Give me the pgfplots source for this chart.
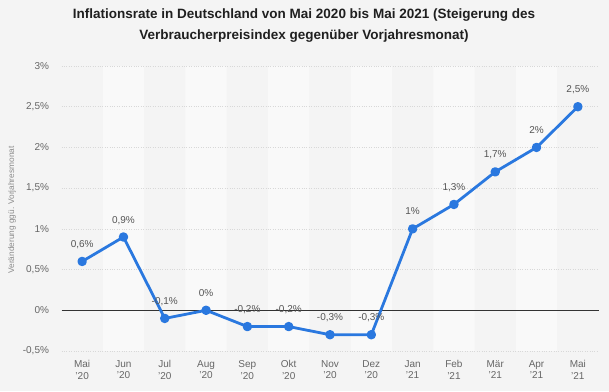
\documentclass[border=0pt]{standalone}
\usepackage{pgfplots}
\pgfplotsset{compat=1.18}
\usepackage{fontspec}
\setmainfont{Liberation Sans}
\definecolor{bg}{HTML}{F4F4F4}
\definecolor{stripe}{HTML}{F9F9F9}
\definecolor{lineblue}{HTML}{2A78DF}
\definecolor{ticktext}{HTML}{666666}
\definecolor{labeltext}{HTML}{555555}
\definecolor{gridc}{HTML}{D8D8D8}
\pgfplotstableread{
x y label
0 0.6 0,6\%
1 0.9 0,9\%
2 -0.1 -0,1\%
3 0 0\%
4 -0.2 -0,2\%
5 -0.2 -0,2\%
6 -0.3 -0,3\%
7 -0.3 -0,3\%
8 1 1\%
9 1.3 1,3\%
10 1.7 1,7\%
11 2 2\%
12 2.5 2,5\%
}\datatable
\pgfplotstableread{
x h
1 3.5
3 3.5
5 3.5
7 3.5
9 3.5
11 3.5
}\stripetable
\begin{document}
\begin{tikzpicture}
\fill[bg] (0,0) rectangle (609pt,391pt);
\node[font=\bfseries\fontsize{13.5}{16}\selectfont, text=black!88, anchor=base] at (304pt,372.5pt) {Inflationsrate in Deutschland von Mai 2020 bis Mai 2021 (Steigerung des};
\node[font=\bfseries\fontsize{13.5}{16}\selectfont, text=black!88, anchor=base] at (304pt,351pt) {Verbraucherpreisindex gegenüber Vorjahresmonat)};
\node[font=\fontsize{8.3}{9}\selectfont, text=black!45, rotate=90] at (12pt,181pt) {Veränderung ggü. Vorjahresmonat};
% background stripes
\begin{axis}[
  at={(61.5pt,40pt)}, anchor=south west,
  scale only axis, width=537pt, height=285pt,
  xmin=-0.5, xmax=12.5, ymin=0, ymax=3.5,
  hide axis,
]
\addplot[ybar, bar width=1, fill=stripe, draw=none] table[x=x, y=h] {\stripetable};
\end{axis}
% main chart
\begin{axis}[
  at={(61.5pt,40pt)}, anchor=south west,
  scale only axis, width=537pt, height=285pt,
  xmin=-0.5, xmax=12.5, ymin=-0.5, ymax=3,
  axis line style={draw=none},
  tick style={draw=none},
  ytick={-0.5,0,0.5,1,1.5,2,2.5,3},
  yticklabels={{-0,5\%},{0\%},{0,5\%},{1\%},{1,5\%},{2\%},{2,5\%},{3\%}},
  xtick={0,...,12},
  xticklabels={Mai\\'20,Jun\\'20,Jul\\'20,Aug\\'20,Sep\\'20,Okt\\'20,Nov\\'20,Dez\\'20,Jan\\'21,Feb\\'21,Mär\\'21,Apr\\'21,Mai\\'21},
  xticklabel style={align=center, font=\fontsize{10}{11.5}\selectfont, text=ticktext, yshift=-6pt},
  yticklabel style={font=\fontsize{10}{12}\selectfont, text=ticktext, xshift=-9pt},
  ymajorgrids, grid style={gridc, dotted, line width=0.6pt},
  clip=false,
]
\addplot[black!80, line width=0.8pt, no marks] coordinates {(-0.5,0) (12.5,0)};
\addplot[lineblue, line width=2.8pt, line join=round, mark=*, mark size=3.3pt,
  mark options={solid, fill=lineblue, draw=none},
  nodes near coords, point meta=explicit symbolic,
  every node near coord/.style={font=\fontsize{10}{12}\selectfont, text=labeltext, anchor=base, yshift=14pt, inner sep=0pt}]
  table[x=x, y=y, meta=label] {\datatable};
\end{axis}
\end{tikzpicture}
\end{document}
